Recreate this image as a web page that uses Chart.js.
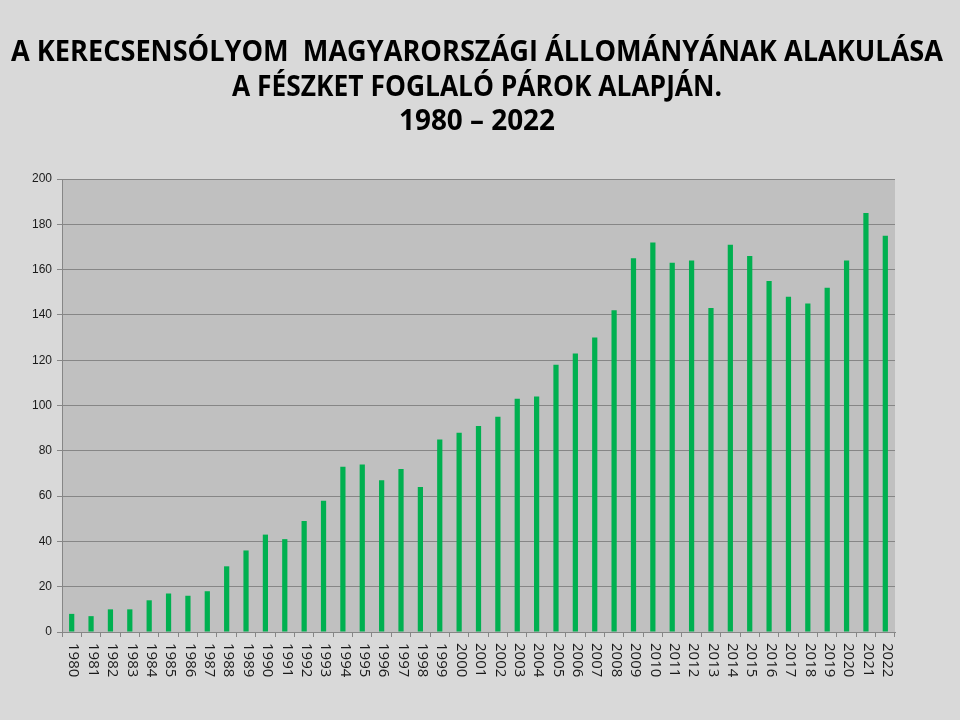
<!DOCTYPE html>
<html>
<head>
<meta charset="utf-8">
<script src="https://cdn.jsdelivr.net/npm/chart.js@4"></script>
<style>
  html, body { margin: 0; padding: 0; background: #d9d9d9; }
  #wrap { width: 960px; height: 720px; }
</style>
</head>
<body>
<div id="wrap"><canvas id="chart" width="960" height="720"></canvas></div>
<script>
const years = [
  "1980", "1981", "1982", "1983", "1984", "1985", "1986", "1987", "1988", "1989",
  "1990", "1991", "1992", "1993", "1994", "1995", "1996", "1997", "1998", "1999",
  "2000", "2001", "2002", "2003", "2004", "2005", "2006", "2007", "2008", "2009",
  "2010", "2011", "2012", "2013", "2014", "2015", "2016", "2017", "2018", "2019",
  "2020", "2021", "2022"
];
const pairs = [
  8, 7, 10, 10, 14, 17, 16, 18, 29, 36,
  43, 41, 49, 58, 73, 74, 67, 72, 64, 85,
  88, 91, 95, 103, 104, 118, 123, 130, 142, 165,
  172, 163, 164, 143, 171, 166, 155, 148, 145, 152,
  164, 185, 175
];
const titleLines = [
  "A KERECSENSÓLYOM  MAGYARORSZÁGI ÁLLOMÁNYÁNAK ALAKULÁSA",
  "A FÉSZKET FOGLALÓ PÁROK ALAPJÁN.",
  "1980 – 2022"
];

// gray plot background + the three-line title across the whole slide
const plotBg = {
  id: "plotBg",
  beforeDraw(chart) {
    const { ctx, chartArea: a } = chart;
    ctx.save();
    ctx.fillStyle = "#c0c0c0";
    ctx.fillRect(a.left, a.top, a.right - a.left, a.bottom - a.top);

    // original uses a condensed bold face, so squeeze each line to its width
    ctx.fillStyle = "#000";
    ctx.font = "bold 28px 'Open Sans', sans-serif";
    ctx.textAlign = "center";
    ctx.textBaseline = "middle";
    const ys = [53, 88, 122];
    const widths = [932, 490, 156];
    titleLines.forEach((t, i) => ctx.fillText(t, 477, ys[i], widths[i]));
    ctx.restore();
  }
};

// year labels turned clockwise, reading top to bottom
const yearLabels = {
  id: "yearLabels",
  afterDraw(chart) {
    const { ctx } = chart;
    const x = chart.scales.x;
    ctx.save();
    ctx.fillStyle = "#1a1a1a";
    ctx.font = "15px 'Open Sans', sans-serif";
    ctx.textAlign = "left";
    ctx.textBaseline = "middle";
    years.forEach((y, i) => {
      const px = x.getPixelForValue(i) + 2;
      ctx.save();
      ctx.translate(px, x.top + 11);
      ctx.rotate(Math.PI / 2);
      ctx.fillText(y, 0, 0);
      ctx.restore();
    });
    ctx.restore();
  }
};

new Chart(document.getElementById("chart"), {
  type: "bar",
  data: {
    labels: years,
    datasets: [{
      data: pairs,
      backgroundColor: "#00b050",
      barPercentage: 0.27,
      categoryPercentage: 1
    }]
  },
  options: {
    responsive: false,
    animation: false,
    layout: { padding: { left: 0, right: 65, top: 179, bottom: 0 } },
    plugins: {
      legend: { display: false },
      tooltip: { enabled: false },
      title: { display: false }
    },
    scales: {
      x: {
        grid: { display: true, drawOnChartArea: false, drawTicks: true, tickLength: 5, color: "#868686", offset: true },
        border: { color: "#868686" },
        ticks: { display: false },
        afterFit(s) { s.height = 88; }
      },
      y: {
        min: 0,
        max: 200,
        ticks: { stepSize: 20, color: "#1a1a1a", padding: 5, font: { family: "'Liberation Sans', sans-serif", size: 12 } },
        grid: { color: "#868686", tickLength: 5 },
        border: { color: "#868686" },
        afterFit(s) { s.width = 62; }
      }
    }
  },
  plugins: [plotBg, yearLabels]
});
</script>
</body>
</html>
